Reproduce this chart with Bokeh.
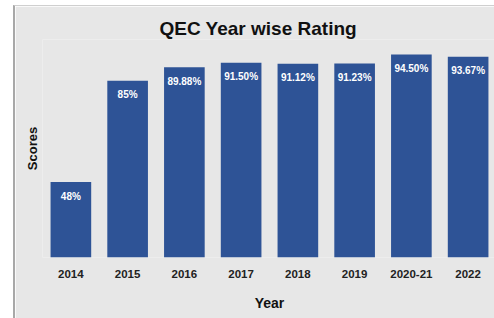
from bokeh.plotting import figure
from bokeh.models import ColumnDataSource, Range1d, LabelSet, Spacer, FixedTicker, Title
from bokeh.layouts import row, column
from bokeh.core.properties import value
from bokeh.embed import file_html
from bokeh.resources import INLINE

years = ["2014", "2015", "2016", "2017", "2018", "2019", "2020-21", "2022"]
scores = [48.0, 85.0, 89.88, 91.50, 91.12, 91.23, 94.50, 93.67]
score_labels = ["48%", "85%", "89.88%", "91.50%", "91.12%", "91.23%", "94.50%", "93.67%"]

idx = list(range(len(years)))
src = ColumnDataSource(dict(x=idx, top=scores, lab=score_labels))

BG = "#E7E7E7"
BAR = "#2E5396"
FONT = "Liberation Sans"

p = figure(width=481, height=313, output_backend="svg", toolbar_location=None,
           x_range=Range1d(-0.5, 7.5), y_range=Range1d(20.5, 100),
           background_fill_color=BG, border_fill_color=BG,
           min_border_left=27, min_border_right=0, min_border_top=33, min_border_bottom=62)
p.styles = {"border-left": "2px solid #A8A8A8", "border-top": "1px solid #CFCFCF"}
p.outline_line_color = None
p.xgrid.grid_line_color = None
p.ygrid.grid_line_color = None

p.vbar(x="x", top="top", bottom=20.5, width=0.716, source=src, fill_color=BAR, line_color=None)

labels = LabelSet(x="x", y="top", text="lab", source=src, text_color="white",
                  text_font=value(FONT), text_font_size="10px", text_font_style="bold",
                  text_align="center", text_baseline="middle", y_offset=-14)
p.add_layout(labels)

t = Title(text="QEC Year wise Rating", text_font=FONT, text_font_size="19px",
          text_font_style="bold", text_color="#111111", align="left", offset=117,
          standoff=1, padding=(0, 0, 4, 0))
p.add_layout(t, "above")

p.xaxis.ticker = FixedTicker(ticks=idx)
p.xaxis.major_label_overrides = {i: y for i, y in zip(idx, years)}
p.xaxis.major_label_text_font = FONT
p.xaxis.major_label_text_font_size = "11.5px"
p.xaxis.major_label_text_font_style = "bold"
p.xaxis.major_label_text_color = "#222222"
p.xaxis.major_label_standoff = 6
p.xaxis.axis_line_color = None
p.xaxis.major_tick_line_color = None
p.xaxis.minor_tick_line_color = None
p.xaxis.axis_label = "Year"
p.xaxis.axis_label_text_font = FONT
p.xaxis.axis_label_text_font_size = "14px"
p.xaxis.axis_label_text_font_style = "bold"
p.xaxis.axis_label_text_color = "#111111"
p.xaxis.axis_label_standoff = 14

p.yaxis.ticker = FixedTicker(ticks=[])
p.yaxis.axis_label = "Scores"
p.yaxis.axis_label_text_font = FONT
p.yaxis.axis_label_text_font_size = "13px"
p.yaxis.axis_label_text_font_style = "bold"
p.yaxis.axis_label_text_color = "#111111"
p.yaxis.axis_label_standoff = 3
p.yaxis.axis_line_color = None
p.yaxis.major_tick_line_color = None
p.yaxis.minor_tick_line_color = None

layout = column(Spacer(height=5), row(Spacer(width=13), p))
open("out.html", "w").write(file_html(layout, INLINE))
